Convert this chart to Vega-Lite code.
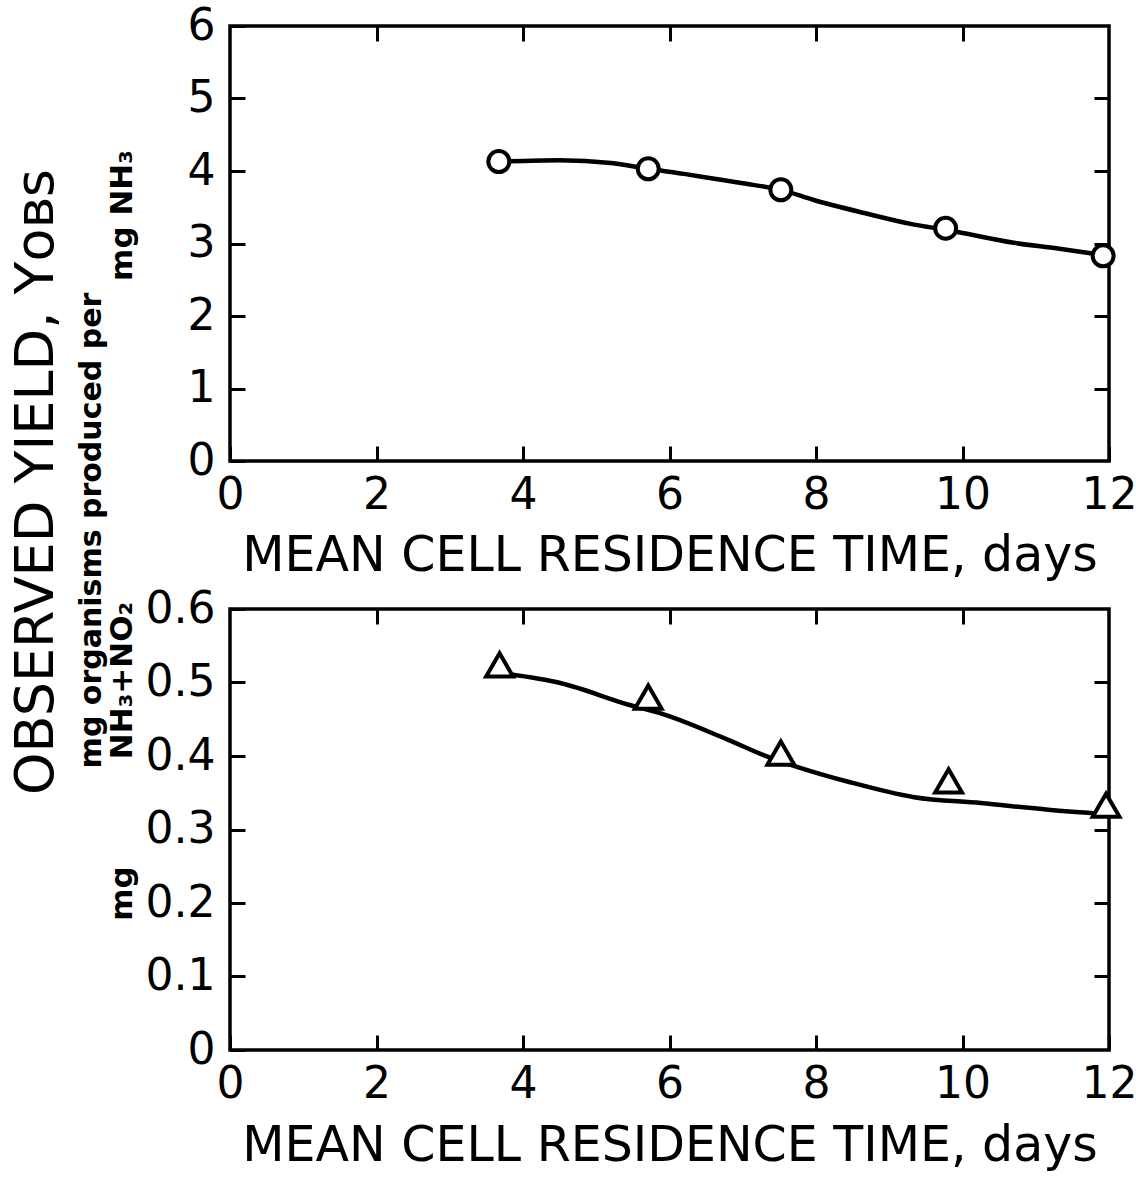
{
  "$schema": "https://vega.github.io/schema/vega-lite/v6.json",
  "background": "white",
  "padding": {"left": 10, "top": 2, "right": 4, "bottom": 4},
  "title": {
    "text": "OBSERVED YIELD, Yᴏʙꜱ",
    "orient": "left",
    "anchor": "middle",
    "font": "DejaVu Sans",
    "fontSize": 54,
    "fontWeight": "normal",
    "color": "black",
    "offset": 10,
    "dx": 105
  },
  "datasets": {
    "points_nh3": [
      {"mcrt": 3.67, "yobs": 4.13},
      {"mcrt": 5.71, "yobs": 4.03},
      {"mcrt": 7.52, "yobs": 3.74},
      {"mcrt": 9.77, "yobs": 3.21},
      {"mcrt": 11.92, "yobs": 2.83}
    ],
    "curve_nh3": [
      {"mcrt": 3.67, "yobs": 4.13},
      {"mcrt": 4.5, "yobs": 4.15},
      {"mcrt": 5.2, "yobs": 4.11},
      {"mcrt": 5.71, "yobs": 4.03},
      {"mcrt": 6.2, "yobs": 3.96},
      {"mcrt": 6.57, "yobs": 3.9},
      {"mcrt": 7.0, "yobs": 3.83},
      {"mcrt": 7.52, "yobs": 3.74},
      {"mcrt": 7.97, "yobs": 3.6},
      {"mcrt": 8.66, "yobs": 3.42},
      {"mcrt": 9.34, "yobs": 3.26},
      {"mcrt": 9.77, "yobs": 3.19},
      {"mcrt": 10.7, "yobs": 3.01},
      {"mcrt": 11.3, "yobs": 2.93},
      {"mcrt": 11.92, "yobs": 2.84}
    ],
    "points_total": [
      {"mcrt": 3.68, "yobs": 0.524},
      {"mcrt": 5.71, "yobs": 0.48},
      {"mcrt": 7.52, "yobs": 0.404},
      {"mcrt": 9.81, "yobs": 0.366},
      {"mcrt": 11.96, "yobs": 0.333}
    ],
    "curve_total": [
      {"mcrt": 3.68, "yobs": 0.513},
      {"mcrt": 4.52, "yobs": 0.499},
      {"mcrt": 5.47, "yobs": 0.469},
      {"mcrt": 5.88, "yobs": 0.458},
      {"mcrt": 6.8, "yobs": 0.422},
      {"mcrt": 7.39, "yobs": 0.397},
      {"mcrt": 7.75, "yobs": 0.385},
      {"mcrt": 8.44, "yobs": 0.365},
      {"mcrt": 9.34, "yobs": 0.344},
      {"mcrt": 10.25, "yobs": 0.336},
      {"mcrt": 11.17, "yobs": 0.327},
      {"mcrt": 11.96, "yobs": 0.321}
    ]
  },
  "config": {
    "view": {"stroke": "black", "strokeWidth": 3.5},
    "axis": {
      "domain": false,
      "grid": false,
      "tickColor": "black",
      "tickWidth": 3,
      "tickSize": -15,
      "labelFont": "DejaVu Sans",
      "labelFontSize": 44,
      "labelColor": "black",
      "labelFlush": false,
      "labelOverlap": false,
      "titleFont": "DejaVu Sans",
      "titleColor": "black"
    }
  },
  "bounds": "flush",
  "spacing": 148,
  "vconcat": [
    {
      "width": 879,
      "height": 435,
      "layer": [
        {
          "data": {"name": "curve_nh3"},
          "mark": {"type": "line", "color": "black", "strokeWidth": 4.5, "interpolate": "monotone"},
          "encoding": {
            "x": {"field": "mcrt", "type": "quantitative", "scale": {"domain": [0, 12], "nice": false},
              "axis": {"orient": "bottom", "values": [0, 2, 4, 6, 8, 10, 12], "labelPadding": 27,
                "title": "MEAN CELL RESIDENCE TIME, days", "titleFontSize": 49, "titleFontWeight": "normal",
                "titleY": 94, "titleBaseline": "middle"}},
            "y": {"field": "yobs", "type": "quantitative", "scale": {"domain": [0, 6], "nice": false},
              "axis": {"orient": "left", "values": [0, 1, 2, 3, 4, 5, 6], "labelPadding": 30,
                "title": "mg organisms produced per", "titleFontSize": 30, "titleFontWeight": "bold",
                "titleAngle": -90, "titleX": -139, "titleY": 504, "titleAlign": "center", "titleBaseline": "middle"}}
          }
        },
        {
          "data": {"name": "points_nh3"},
          "mark": {"type": "point", "shape": "circle", "filled": true, "fill": "white", "stroke": "black", "strokeWidth": 4, "size": 440, "opacity": 1},
          "encoding": {
            "x": {"field": "mcrt", "type": "quantitative", "scale": {"domain": [0, 12], "nice": false},
              "axis": {"orient": "top", "values": [2, 4, 6, 8, 10], "labels": false,
                "title": "mg NH₃", "titleFontSize": 31, "titleFontWeight": "bold",
                "titleAngle": -90, "titleX": -108, "titleY": 189, "titleAlign": "center", "titleBaseline": "middle"}},
            "y": {"field": "yobs", "type": "quantitative", "scale": {"domain": [0, 6], "nice": false},
              "axis": {"orient": "right", "values": [1, 2, 3, 4, 5], "labels": false, "title": null}}
          }
        }
      ],
      "resolve": {"scale": {"x": "independent", "y": "independent"}}
    },
    {
      "width": 879,
      "height": 441,
      "layer": [
        {
          "data": {"name": "curve_total"},
          "mark": {"type": "line", "color": "black", "strokeWidth": 4.5, "interpolate": "monotone"},
          "encoding": {
            "x": {"field": "mcrt", "type": "quantitative", "scale": {"domain": [0, 12], "nice": false},
              "axis": {"orient": "bottom", "values": [0, 2, 4, 6, 8, 10, 12], "labelPadding": 27,
                "title": "MEAN CELL RESIDENCE TIME, days", "titleFontSize": 49, "titleFontWeight": "normal",
                "titleY": 95, "titleBaseline": "middle"}},
            "y": {"field": "yobs", "type": "quantitative", "scale": {"domain": [0, 0.6], "nice": false},
              "axis": {"orient": "left", "values": [0, 0.1, 0.2, 0.3, 0.4, 0.5, 0.6], "labelPadding": 30,
                "labelExpr": "datum.value == 0 ? '0' : format(datum.value, '.1f')",
                "title": "mg", "titleFontSize": 31, "titleFontWeight": "bold",
                "titleAngle": -90, "titleX": -108, "titleY": 284, "titleAlign": "center", "titleBaseline": "middle"}}
          }
        },
        {
          "data": {"name": "points_total"},
          "mark": {"type": "point", "shape": "triangle-up", "filled": true, "fill": "white", "stroke": "black", "strokeWidth": 4, "size": 720, "opacity": 1},
          "encoding": {
            "x": {"field": "mcrt", "type": "quantitative", "scale": {"domain": [0, 12], "nice": false},
              "axis": {"orient": "top", "values": [2, 4, 6, 8, 10], "labels": false,
                "title": "NH₃+NO₂", "titleFontSize": 31, "titleFontWeight": "bold",
                "titleAngle": -90, "titleX": -108, "titleY": 71, "titleAlign": "center", "titleBaseline": "middle"}},
            "y": {"field": "yobs", "type": "quantitative", "scale": {"domain": [0, 0.6], "nice": false},
              "axis": {"orient": "right", "values": [0.1, 0.2, 0.3, 0.4, 0.5], "labels": false, "title": null}}
          }
        }
      ],
      "resolve": {"scale": {"x": "independent", "y": "independent"}}
    }
  ]
}
